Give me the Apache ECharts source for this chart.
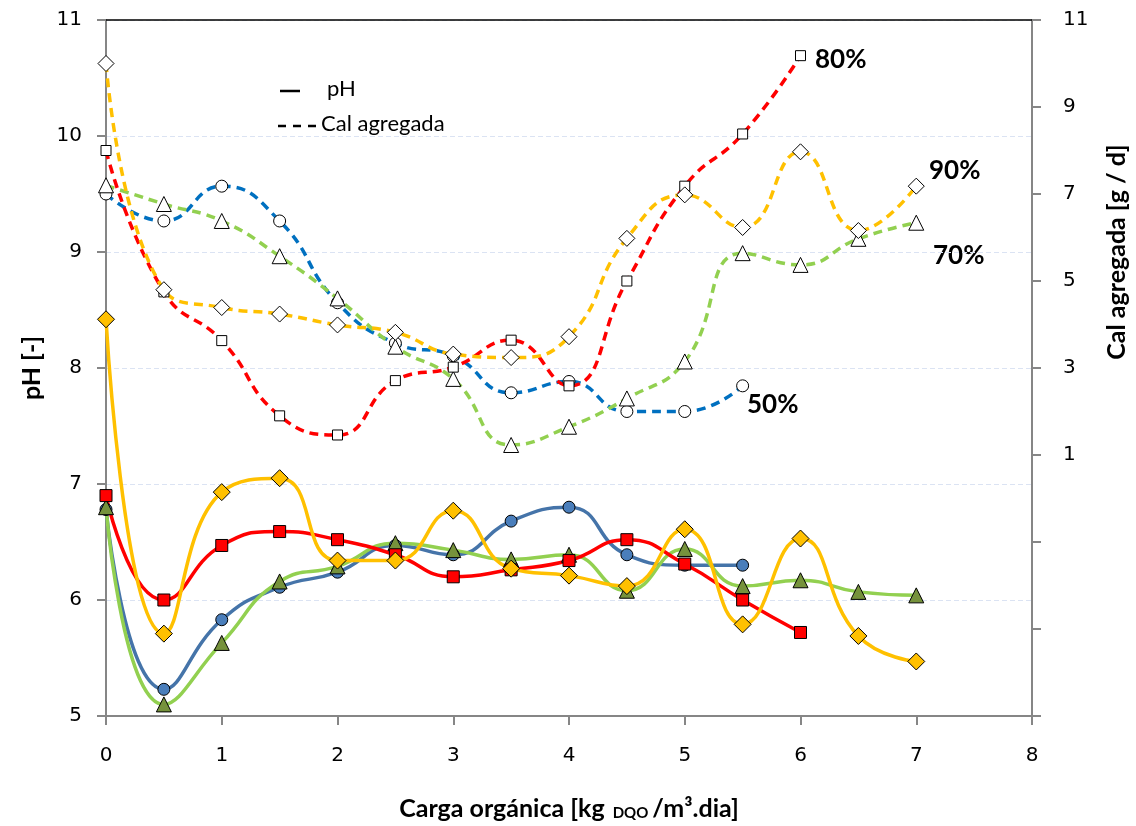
<!DOCTYPE html>
<html><head><meta charset="utf-8">
<script src="https://cdn.jsdelivr.net/npm/echarts@6/dist/echarts.min.js"></script>
<style>html,body{margin:0;padding:0;background:#fff}#c{width:1136px;height:826px}</style>
</head><body><div id="c"></div>
<script>
// x: Carga orgánica [kg DQO/m3.dia]
const xs = [0, 0.5, 1, 1.5, 2, 2.5, 3, 3.5, 4, 4.5, 5, 5.5, 6, 6.5, 7];
// pH (left axis)
const ph50 = [6.78, 5.23, 5.83, 6.11, 6.24, 6.47, 6.39, 6.68, 6.80, 6.39, 6.30, 6.30];
const ph70 = [6.80, 5.10, 5.63, 6.16, 6.29, 6.49, 6.43, 6.35, 6.39, 6.08, 6.44, 6.12, 6.17, 6.07, 6.04];
const ph80 = [6.90, 6.00, 6.47, 6.59, 6.52, 6.39, 6.20, 6.26, 6.34, 6.52, 6.31, 6.00, 5.72];
const ph90 = [8.42, 5.71, 6.93, 7.05, 6.34, 6.34, 6.77, 6.27, 6.21, 6.12, 6.61, 5.79, 6.53, 5.69, 5.47];
// Cal agregada [g/d] (right axis)
const cal50 = [7.0, 6.38, 7.18, 6.38, 4.5, 3.57, 3.28, 2.43, 2.69, 2.0, 2.0, 2.59];
const cal70 = [7.2, 6.77, 6.38, 5.57, 4.6, 3.49, 2.75, 1.23, 1.65, 2.30, 3.15, 5.64, 5.37, 5.97, 6.34];
const cal80 = [8.0, 4.75, 3.63, 1.90, 1.46, 2.71, 3.02, 3.64, 2.59, 5.0, 7.18, 8.38, 10.18];
const cal90 = [10.0, 4.8, 4.39, 4.24, 3.99, 3.82, 3.32, 3.24, 3.72, 5.98, 6.98, 6.23, 7.97, 6.16, 7.18];
// tick labels
const xTicks = [0, 1, 2, 3, 4, 5, 6, 7, 8];
const calTickLabels = [1, 3, 5, 7, 9, 11];

const pairs = ys => ys.map((v, i) => [xs[i], v]);

function solid(name, ys, color, symbol, size, fill) {
  return {
    name, type: 'line', yAxisIndex: 0, data: pairs(ys), smooth: 0.5,
    symbol, symbolSize: size, z: 3,
    lineStyle: { color, width: 3.5 },
    itemStyle: { color: fill, borderColor: '#000', borderWidth: 1 },
    emphasis: { disabled: true }
  };
}
function dashed(name, ys, color, symbol, size) {
  return {
    name, type: 'line', yAxisIndex: 1, data: pairs(ys), smooth: 0.5,
    symbol, symbolSize: size, z: 2,
    lineStyle: { color, width: 3.5, type: [9, 6] },
    itemStyle: { color: '#fff', borderColor: '#000', borderWidth: 1 },
    emphasis: { disabled: true }
  };
}

const chart = echarts.init(document.getElementById('c'));
const tickFont = { fontFamily: 'DejaVu Sans', fontSize: 20, color: '#000' };
const boldFont = 'Lato';
const greyLine = { show: true, onZero: false, lineStyle: { color: '#868686', width: 2 } };

chart.setOption({
  animation: false,
  grid: { left: 106, right: 104, top: 20, bottom: 110 },
  xAxis: [{
    type: 'value', min: 0, max: 8, interval: 1, position: 'bottom',
    axisLine: greyLine,
    axisTick: { show: true, inside: false, length: 9, lineStyle: { color: '#868686', width: 2 } },
    axisLabel: Object.assign({ margin: 30, formatter: v => xTicks.includes(v) ? String(v) : '' }, tickFont),
    splitLine: { show: false },
    name: '{a|Carga orgánica [kg }{s|DQO}{a|/m³.dia]}',
    nameLocation: 'middle', nameGap: 80,
    nameTextStyle: {
      rich: {
        a: { fontFamily: boldFont, fontWeight: 'bold', fontSize: 25, color: '#000' },
        s: { fontFamily: boldFont, fontWeight: 'bold', fontSize: 15, color: '#000', padding: [10, 4, 0, 2] }
      }
    }
  }, {
    type: 'value', min: 0, max: 8, position: 'top',
    axisLine: { show: true, onZero: false, lineStyle: { color: '#000', width: 1.5 } },
    axisTick: { show: false }, axisLabel: { show: false }, splitLine: { show: false }
  }],
  yAxis: [{
    type: 'value', min: 5, max: 11, interval: 1, position: 'left',
    axisLine: greyLine,
    axisTick: { show: true, length: 9, lineStyle: { color: '#868686', width: 2 } },
    axisLabel: Object.assign({ margin: 24 }, tickFont),
    splitLine: { show: true, lineStyle: { color: '#dbe3f3', width: 1, type: [5, 3] } },
    name: 'pH [-]', nameLocation: 'middle', nameGap: 62, nameRotate: 90,
    nameTextStyle: { fontFamily: boldFont, fontWeight: 'bold', fontSize: 25, color: '#000' }
  }, {
    type: 'value', min: -5, max: 11, interval: 2, position: 'right',
    axisLine: greyLine,
    axisTick: { show: true, length: 9, lineStyle: { color: '#868686', width: 2 } },
    axisLabel: Object.assign({ margin: 31, formatter: v => calTickLabels.includes(v) ? String(v) : '' }, tickFont),
    splitLine: { show: false }
  }],
  series: [
    dashed('Cal 50%', cal50, '#0070c0', 'circle', 12),
    dashed('Cal 70%', cal70, '#92d050', 'triangle', 15),
    dashed('Cal 80%', cal80, '#ff0000', 'rect', 10),
    dashed('Cal 90%', cal90, '#ffc000', 'diamond', 16),
    solid('pH 50%', ph50, '#4574a9', 'circle', 12, '#4a7ebb'),
    solid('pH 70%', ph70, '#92d050', 'triangle', 15, '#76923c'),
    solid('pH 80%', ph80, '#ff0000', 'rect', 12, '#ff0000'),
    solid('pH 90%', ph90, '#ffc000', 'diamond', 17, '#ffc000')
  ],
  graphic: [
    { type: 'line', shape: { x1: 280, y1: 91, x2: 300, y2: 91 }, style: { stroke: '#000', lineWidth: 2.5 } },
    { type: 'text', left: 327, top: 78, style: { text: 'pH', fontFamily: boldFont, fontSize: 22, fill: '#000' } },
    { type: 'line', shape: { x1: 278, y1: 126, x2: 316, y2: 126 }, style: { stroke: '#000', lineWidth: 2.5, lineDash: [8, 7] } },
    { type: 'text', left: 321, top: 113, style: { text: 'Cal agregada', fontFamily: boldFont, fontSize: 22, fill: '#000' } },
    { type: 'text', left: 815, top: 47, style: { text: '80%', fontFamily: boldFont, fontWeight: 'bold', fontSize: 26, fill: '#000' } },
    { type: 'text', left: 929, top: 158, style: { text: '90%', fontFamily: boldFont, fontWeight: 'bold', fontSize: 26, fill: '#000' } },
    { type: 'text', left: 933, top: 243, style: { text: '70%', fontFamily: boldFont, fontWeight: 'bold', fontSize: 26, fill: '#000' } },
    { type: 'text', left: 747, top: 392, style: { text: '50%', fontFamily: boldFont, fontWeight: 'bold', fontSize: 26, fill: '#000' } },
    { type: 'text', x: 1117, y: 252, rotation: Math.PI / 2,
      style: { text: 'Cal agregada [g / d]', fontFamily: boldFont, fontWeight: 'bold', fontSize: 25, fill: '#000', align: 'center', verticalAlign: 'middle' } }
  ]
});
</script></body></html>
